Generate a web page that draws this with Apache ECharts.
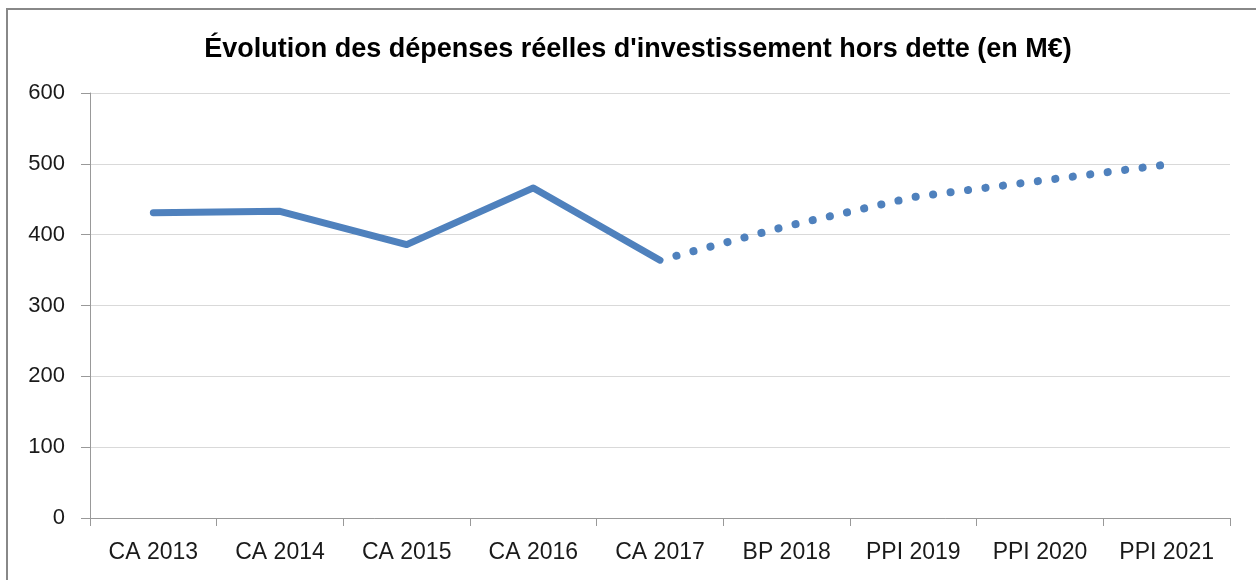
<!DOCTYPE html>
<html>
<head>
<meta charset="utf-8">
<script src="https://cdn.jsdelivr.net/npm/echarts@6/dist/echarts.min.js"></script>
<style>
  html, body { margin: 0; padding: 0; background: #fff; }
  #chart { width: 1256px; height: 580px; }
</style>
</head>
<body>
<div id="chart"></div>
<script>
// data
let categories = ["CA 2013", "CA 2014", "CA 2015", "CA 2016", "CA 2017", "BP 2018", "PPI 2019", "PPI 2020", "PPI 2021"];
let realise = [431, 433, 386, 466, 364, null, null, null, null];
let prevision = [null, null, null, null, 364, 412, 453, 476, 499];
let yTicks = [0, 100, 200, 300, 400, 500, 600];

let blue = "#4f81bd";
let font = "Liberation Sans, Arial, sans-serif";

const chartDom = document.getElementById("chart");
const myChart = echarts.init(chartDom, null, { renderer: "canvas" });

const option = {
  animation: false,
  backgroundColor: "#fff",
  title: {
    text: "Évolution des dépenses réelles d'investissement hors dette (en M€)",
    left: 633,
    textAlign: "center",
    top: 31,
    textStyle: { fontFamily: font, fontSize: 27, fontWeight: "bold", color: "#000" },
  },
  graphic: [
    { type: "line", shape: { x1: 7, y1: 9, x2: 7, y2: 580 }, style: { stroke: "#888", lineWidth: 2 } },
    { type: "line", shape: { x1: 6, y1: 9, x2: 1256, y2: 9 }, style: { stroke: "#888", lineWidth: 2 } },
  ],
  grid: { left: 90, right: 26, top: 93, bottom: 62 },
  xAxis: {
    type: "category",
    data: categories,
    boundaryGap: true,
    axisLine: { lineStyle: { color: "#999", width: 1 } },
    axisTick: { show: true, length: 8, lineStyle: { color: "#999" } },
    axisLabel: { fontFamily: font, fontSize: 23, color: "#1a1a1a", margin: 23 },
  },
  yAxis: {
    type: "value",
    min: yTicks[0],
    max: yTicks[yTicks.length - 1],
    interval: 100,
    axisLine: { show: true, lineStyle: { color: "#999", width: 1 } },
    axisTick: { show: true, length: 9, lineStyle: { color: "#999" } },
    axisLabel: { fontFamily: font, fontSize: 22, color: "#1a1a1a", margin: 25 },
    splitLine: { lineStyle: { color: "#d9d9d9", width: 1 } },
  },
  series: [
    {
      name: "Réalisé",
      type: "line",
      data: realise,
      showSymbol: false,
      connectNulls: false,
      lineStyle: { color: blue, width: 7, cap: "round", join: "round" },
    },
    {
      name: "Prévision",
      type: "line",
      data: prevision,
      showSymbol: false,
      connectNulls: false,
      lineStyle: { color: blue, width: 8, type: [0.1, 17.5], cap: "round", dashOffset: -17 },
    },
  ],
};

myChart.setOption(option);
</script>
</body>
</html>
